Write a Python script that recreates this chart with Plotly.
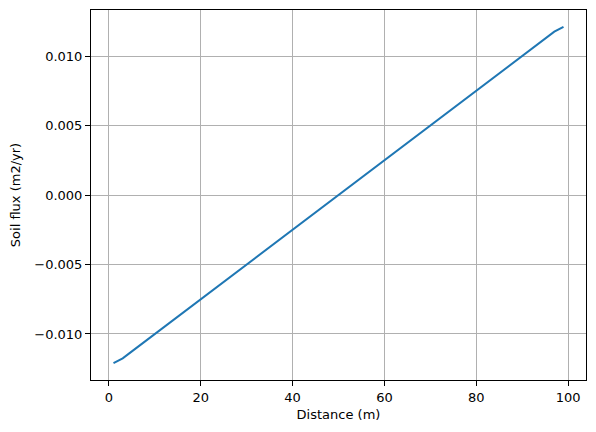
import plotly.graph_objects as go

# node positions along the hillslope (m)
distance = [1, 3, 5, 7, 9, 11, 13, 15, 17, 19, 21, 23, 25, 27, 29, 31, 33, 35, 37, 39,
            41, 43, 45, 47, 49, 51, 53, 55, 57, 59, 61, 63, 65, 67, 69, 71, 73, 75, 77, 79,
            81, 83, 85, 87, 89, 91, 93, 95, 97, 99]

# soil flux (m2/yr)
soil_flux = [-0.0121, -0.01175, -0.01125, -0.01075, -0.01025, -0.00975, -0.00925, -0.00875,
             -0.00825, -0.00775, -0.00725, -0.00675, -0.00625, -0.00575, -0.00525, -0.00475,
             -0.00425, -0.00375, -0.00325, -0.00275, -0.00225, -0.00175, -0.00125, -0.00075,
             -0.00025, 0.00025, 0.00075, 0.00125, 0.00175, 0.00225, 0.00275, 0.00325,
             0.00375, 0.00425, 0.00475, 0.00525, 0.00575, 0.00625, 0.00675, 0.00725,
             0.00775, 0.00825, 0.00875, 0.00925, 0.00975, 0.01025, 0.01075, 0.01125,
             0.01175, 0.0121]

x_ticks = [0, 20, 40, 60, 80, 100]
y_ticks = [-0.010, -0.005, 0.0, 0.005, 0.010]
y_tick_labels = ["\u22120.010", "\u22120.005", "0.000", "0.005", "0.010"]

fig = go.Figure()
fig.add_trace(go.Scatter(x=distance, y=soil_flux, mode="lines",
                         line=dict(color="#1f77b4", width=2)))

axis_style = dict(showline=True, linecolor="black", linewidth=1, mirror=True,
                  ticks="outside", ticklen=5, tickcolor="black",
                  showgrid=True, gridcolor="#b0b0b0", gridwidth=1,
                  zeroline=False, tickfont=dict(size=13, color="black"))

fig.update_xaxes(range=[-3.9, 103.9], tickvals=x_ticks,
                 title=dict(text="Distance (m)", font=dict(size=13, color="black"), standoff=6),
                 **axis_style)
fig.update_yaxes(range=[-0.01331, 0.01331], tickvals=y_ticks, ticktext=y_tick_labels,
                 title=dict(text="Soil flux (m2/yr)", font=dict(size=13, color="black"), standoff=10),
                 **axis_style)

fig.update_layout(width=596, height=432,
                  margin=dict(l=91, r=10, t=10, b=52, autoexpand=False),
                  plot_bgcolor="white", paper_bgcolor="white",
                  font=dict(family="DejaVu Sans", size=13, color="black"),
                  showlegend=False)

# drop the browser's default body margin so the figure sits at the page corner
fig.write_html("out.html", config={"displayModeBar": False},
               post_script="document.body.style.margin = '0';")
